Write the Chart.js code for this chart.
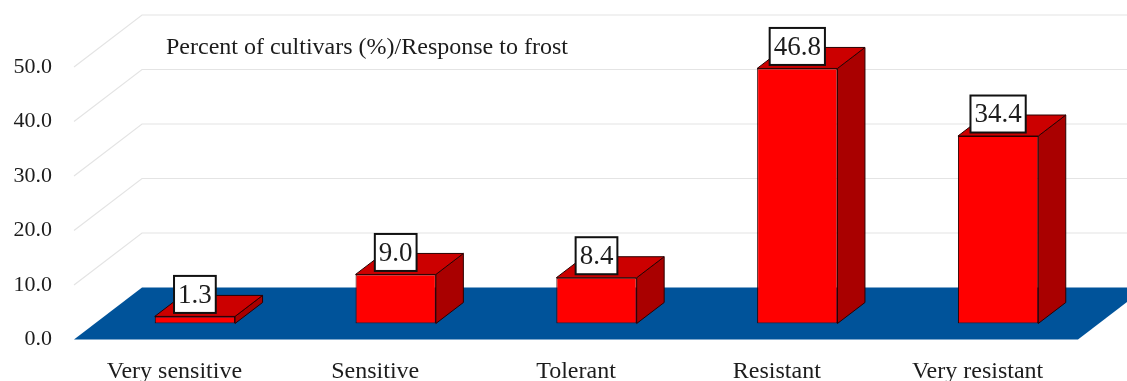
<!DOCTYPE html>
<html>
<head>
<meta charset="utf-8">
<title>Response to frost</title>
<script src="https://cdn.jsdelivr.net/npm/chart.js@4"></script>
<style>
  html, body { margin: 0; padding: 0; background: #fff; }
  canvas { display: block; }
</style>
</head>
<body>
<canvas id="frostChart" width="1127" height="381"></canvas>
<script>
const categories = ['Very sensitive', 'Sensitive', 'Tolerant', 'Resistant', 'Very resistant'];
const percents = [1.3, 9.0, 8.4, 46.8, 34.4];
const yTicks = [0, 10, 20, 30, 40, 50];
const heading = 'Percent of cultivars (%)/Response to frost';

const FONT = '"Liberation Serif", serif';
const INK = '#1c1c1c';

// fake 3D: the wall sits behind the axes, the bars stand part way into the floor
const WALL_DX = 68, WALL_DY = -52;
const BAR_DX = 20.5, BAR_DY = -16;
const DEPTH_DX = 27.5, DEPTH_DY = -21;

function fillPoly(ctx, pts, fill, stroke) {
  ctx.beginPath();
  pts.forEach((p, i) => i ? ctx.lineTo(p[0], p[1]) : ctx.moveTo(p[0], p[1]));
  ctx.closePath();
  ctx.fillStyle = fill;
  ctx.fill();
  if (stroke) {
    ctx.strokeStyle = stroke;
    ctx.lineWidth = 1;
    ctx.stroke();
  }
}

const scenery = {
  id: 'scenery',
  // floor and grid on the wall
  beforeDatasetsDraw(chart) {
    const { ctx, chartArea: a, scales: { y } } = chart;
    const y0 = y.getPixelForValue(0);
    ctx.save();
    ctx.strokeStyle = '#e4e4e4';
    ctx.lineWidth = 1.2;
    yTicks.slice(1).forEach(t => {
      const py = y.getPixelForValue(t);
      ctx.beginPath();
      ctx.moveTo(a.left, py);
      ctx.lineTo(a.left + WALL_DX, py + WALL_DY);
      ctx.lineTo(a.right + WALL_DX, py + WALL_DY);
      ctx.stroke();
    });
    fillPoly(ctx, [
      [a.left, y0], [a.left + WALL_DX, y0 + WALL_DY],
      [a.right + WALL_DX, y0 + WALL_DY], [a.right, y0]
    ], '#00539a');

    // top and side faces of each bar, the front face comes from the dataset
    chart.getDatasetMeta(0).data.forEach(bar => {
      const l = bar.x - bar.width / 2 + BAR_DX;
      const r = bar.x + bar.width / 2 + BAR_DX;
      const t = bar.y + BAR_DY;
      const b = bar.base + BAR_DY;
      fillPoly(ctx, [[r, t], [r + DEPTH_DX, t + DEPTH_DY], [r + DEPTH_DX, b + DEPTH_DY], [r, b]], '#a90000', '#2a0000');
      fillPoly(ctx, [[l, t], [l + DEPTH_DX, t + DEPTH_DY], [r + DEPTH_DX, t + DEPTH_DY], [r, t]], '#cc0000', '#2a0000');
    });
    ctx.restore();
  },
  beforeDatasetDraw(chart) {
    chart.ctx.save();
    chart.ctx.translate(BAR_DX, BAR_DY);
  },
  afterDatasetDraw(chart) {
    chart.ctx.restore();
  },
  // value boxes and the heading
  afterDatasetsDraw(chart) {
    const { ctx } = chart;
    ctx.save();
    ctx.textAlign = 'center';
    ctx.textBaseline = 'middle';
    ctx.font = '27px ' + FONT;
    chart.getDatasetMeta(0).data.forEach((bar, i) => {
      const label = percents[i].toFixed(1);
      const w = ctx.measureText(label).width + 8;
      const h = 37;
      const cx = bar.x + BAR_DX;
      const bottom = bar.y + BAR_DY - 3.5;
      ctx.fillStyle = '#fff';
      ctx.fillRect(cx - w / 2, bottom - h, w, h);
      ctx.strokeStyle = '#111';
      ctx.lineWidth = 2;
      ctx.strokeRect(cx - w / 2, bottom - h, w, h);
      ctx.fillStyle = INK;
      ctx.fillText(label, cx, bottom - h / 2 + 1);
    });
    ctx.textAlign = 'left';
    ctx.textBaseline = 'alphabetic';
    ctx.font = '24px ' + FONT;
    ctx.fillStyle = INK;
    ctx.fillText(heading, 166, 54);
    ctx.restore();
  }
};

new Chart(document.getElementById('frostChart'), {
  type: 'bar',
  data: {
    labels: categories,
    datasets: [{
      data: percents,
      backgroundColor: '#ff0000',
      borderColor: '#2a0000',
      borderWidth: 1,
      borderSkipped: false,
      barPercentage: 0.4,
      categoryPercentage: 1
    }]
  },
  plugins: [scenery],
  options: {
    responsive: false,
    animation: false,
    layout: { padding: { top: 67, right: 49, bottom: 0, left: 0 } },
    plugins: {
      legend: { display: false },
      tooltip: { enabled: false }
    },
    scales: {
      x: {
        border: { display: false },
        grid: { display: false },
        afterFit(axis) { axis.height = 41.5; },
        ticks: { color: INK, padding: 10, maxRotation: 0, font: { family: FONT, size: 24 } }
      },
      y: {
        min: 0,
        max: 50,
        border: { display: false },
        grid: { display: false, drawTicks: false },
        afterFit(axis) { axis.width = 74; },
        afterBuildTicks(axis) { axis.ticks = yTicks.map(value => ({ value })); },
        ticks: {
          color: INK,
          padding: 22,
          font: { family: FONT, size: 22 },
          callback: v => v.toFixed(1)
        }
      }
    }
  }
});
</script>
</body>
</html>
